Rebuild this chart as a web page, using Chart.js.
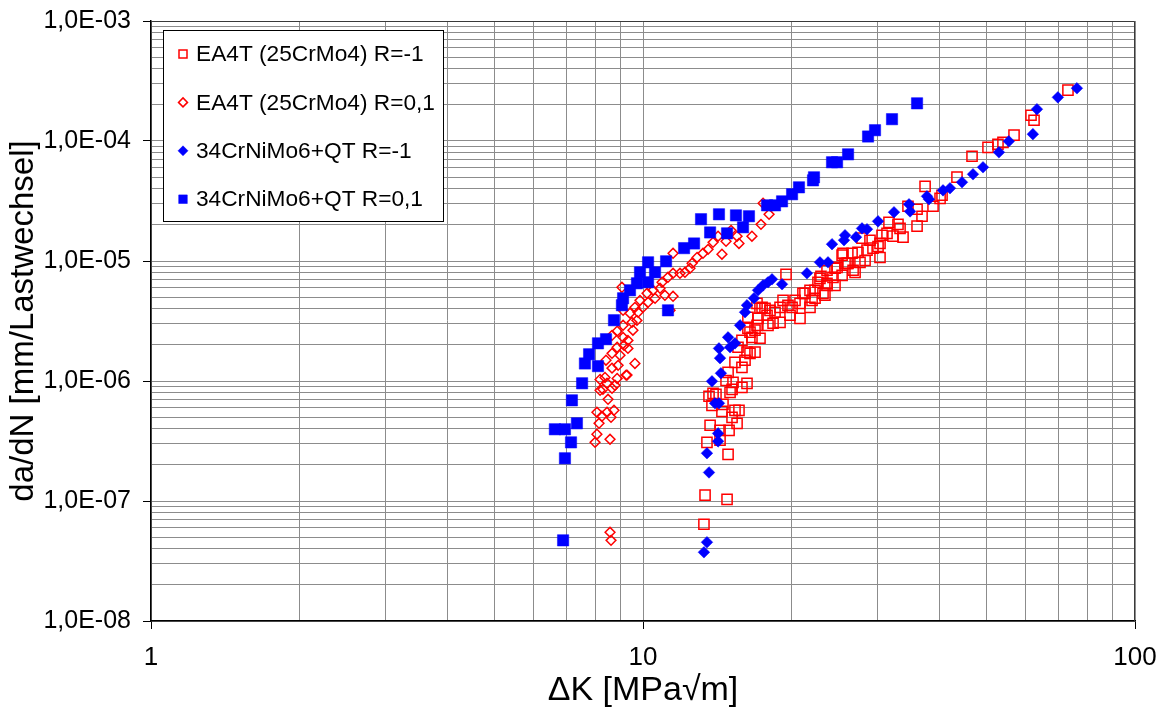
<!DOCTYPE html>
<html lang="de">
<head>
<meta charset="utf-8">
<title>da/dN - ΔK</title>
<script src="https://cdn.jsdelivr.net/npm/chart.js@4.4.1/dist/chart.umd.min.js"></script>
<style>
  html, body { margin: 0; padding: 0; background: #ffffff; }
  #chart-wrap { width: 1163px; height: 711px; }
</style>
</head>
<body>
<div id="chart-wrap"><canvas id="crackChart" width="1163" height="711"></canvas></div>
<script>
// Series labels
const seriesLabels = [
  "EA4T (25CrMo4) R=-1",
  "EA4T (25CrMo4) R=0,1",
  "34CrNiMo6+QT R=-1",
  "34CrNiMo6+QT R=0,1",
];

// EA4T R=-1 : deltaK [MPa√m] and da/dN [mm/Lastwechsel]
const ea4tRm1K = [
  13.30, 13.37, 14.82, 14.89, 13.49, 13.69, 14.34, 14.96, 15.53, 15.17,
  14.47, 13.81, 15.38, 15.67, 14.07, 13.62, 14.54, 15.17, 15.89, 16.27,
  15.24, 13.88, 15.03, 14.89, 15.89, 15.38, 16.50, 16.27, 16.89, 15.60,
  15.89, 16.65, 17.29, 16.34, 17.05, 17.95, 18.99, 17.13, 17.87, 18.55,
  17.70, 18.99, 19.71, 20.85, 21.85, 19.26, 20.37, 21.34, 22.37, 23.22,
  23.66, 22.89, 24.33, 25.39, 24.80, 25.98, 26.73, 25.39, 26.60, 19.53,
  17.05, 16.34, 18.12, 17.46, 18.38, 16.50, 21.14, 22.37, 23.43, 21.85,
  20.09, 22.68, 23.66, 23.00, 24.56, 23.66, 26.98, 26.11, 25.50, 27.35,
  28.27, 28.53, 27.87, 29.34, 30.04, 30.32, 30.61, 31.33, 31.62, 32.22,
  32.98, 33.77, 34.56, 36.06, 36.91, 36.06, 38.86, 40.53, 40.16, 37.44,
  43.47, 46.64, 50.26, 52.66, 53.91, 56.77, 61.47, 62.34, 73.07, 30.32,
  25.74, 17.29, 16.12, 14.75, 16.89, 19.90, 20.85, 22.06, 24.56, 27.61,
  28.93, 33.30, 14.34,
];
const ea4tRm1Rate = [
  6.4e-8, 1.12e-7, 1.03e-7, 2.45e-7, 3.08e-7, 4.28e-7, 3.88e-7, 3.88e-7, 4.44e-7, 4.98e-7,
  5.59e-7, 6.27e-7, 5.70e-7, 5.70e-7, 7.74e-7, 7.46e-7, 6.39e-7, 8.53e-7, 8.86e-7, 9.57e-7,
  9.75e-7, 7.90e-7, 8.05e-7, 1.18e-6, 1.30e-6, 1.43e-6, 1.70e-6, 1.74e-6, 1.74e-6, 1.91e-6,
  2.18e-6, 2.31e-6, 2.27e-6, 2.75e-6, 2.91e-6, 2.91e-6, 3.08e-6, 3.33e-6, 3.53e-6, 3.74e-6,
  4.04e-6, 4.11e-6, 4.27e-6, 4.44e-6, 4.11e-6, 4.70e-6, 4.70e-6, 5.38e-6, 5.70e-6, 5.38e-6,
  6.27e-6, 7.17e-6, 7.31e-6, 7.60e-6, 8.86e-6, 9.57e-6, 8.37e-6, 1.12e-5, 1.16e-5, 7.74e-6,
  4.44e-6, 3.40e-6, 3.88e-6, 4.11e-6, 3.03e-6, 2.55e-6, 5.38e-6, 4.89e-6, 5.18e-6, 5.70e-6,
  4.11e-6, 6.65e-6, 6.52e-6, 7.46e-6, 8.70e-6, 8.37e-6, 8.05e-6, 9.57e-6, 1.16e-5, 1.18e-5,
  1.01e-5, 1.23e-5, 1.55e-5, 1.28e-5, 1.32e-5, 1.07e-5, 1.64e-5, 1.70e-5, 2.10e-5, 1.61e-5,
  2.02e-5, 1.58e-5, 2.86e-5, 2.70e-5, 2.36e-5, 1.95e-5, 2.86e-5, 3.53e-5, 3.33e-5, 4.19e-5,
  5.0e-5, 7.46e-5, 8.86e-5, 9.39e-5, 9.75e-5, 1.12e-4, 1.64e-4, 1.49e-4, 2.65e-4, 1.40e-5,
  9.57e-6, 4.04e-6, 1.49e-6, 1.01e-6, 2.65e-6, 3.53e-6, 3.33e-6, 4.70e-6, 6.27e-6, 9.75e-6,
  1.49e-5, 1.87e-5, 3.21e-7,
];

// EA4T R=0,1
const ea4tR01K = [
  8.57, 8.61, 7.99, 8.57, 8.06, 8.14, 8.06, 8.45, 8.73, 8.61,
  8.25, 8.49, 8.29, 8.65, 8.77, 8.18, 8.45, 8.86, 9.24, 8.65,
  8.90, 8.41, 8.65, 8.98, 8.86, 9.32, 9.32, 9.54, 9.11, 8.86,
  9.11, 9.50, 9.72, 9.77, 9.63, 10.0, 9.86, 10.24, 10.19, 10.58,
  10.48, 10.83, 11.08, 10.93, 11.24, 11.51, 11.51, 11.89, 12.17, 12.46,
  12.58, 12.88, 11.51, 9.06, 9.11, 9.41, 8.65, 9.63, 9.28, 8.18,
  13.24, 13.56, 13.88, 14.21, 14.47, 14.75, 15.10, 15.53, 15.67, 16.65,
  17.37, 18.04, 17.54, 11.35, 9.15, 8.37,
];
const ea4tR01Rate = [
  5.49e-8, 4.70e-8, 3.08e-7, 3.27e-7, 3.60e-7, 4.44e-7, 5.49e-7, 5.49e-7, 5.70e-7, 4.98e-7,
  5.08e-7, 7.04e-7, 8.53e-7, 8.69e-7, 9.21e-7, 1.03e-6, 9.57e-7, 1.05e-6, 1.12e-6, 1.28e-6,
  1.35e-6, 1.49e-6, 1.70e-6, 1.64e-6, 1.91e-6, 1.87e-6, 2.18e-6, 2.65e-6, 2.31e-6, 2.60e-6,
  2.91e-6, 3.08e-6, 3.20e-6, 3.74e-6, 4.11e-6, 4.11e-6, 4.70e-6, 4.53e-6, 5.38e-6, 4.89e-6,
  5.70e-6, 5.92e-6, 5.18e-6, 6.65e-6, 7.31e-6, 7.90e-6, 5.08e-6, 7.90e-6, 8.05e-6, 8.70e-6,
  9.57e-6, 1.07e-5, 1.16e-5, 6.04e-6, 3.88e-6, 3.67e-6, 2.40e-6, 1.40e-6, 1.12e-6, 8.37e-7,
  1.16e-5, 1.25e-5, 1.43e-5, 1.61e-5, 1.14e-5, 1.46e-5, 1.80e-5, 1.61e-5, 1.40e-5, 1.61e-5,
  2.02e-5, 2.45e-5, 3.03e-5, 3.88e-6, 1.98e-6, 1.07e-6,
];

// 34CrNiMo6+QT R=-1
const qtRm1K = [
  13.30, 13.49, 13.62, 13.49, 14.21, 14.21, 14.01, 14.27, 13.81, 14.40,
  14.34, 14.27, 15.03, 14.89, 15.38, 15.75, 16.12, 16.27, 16.81, 17.13,
  17.54, 17.95, 18.29, 19.17, 21.54, 22.89, 23.77, 24.22, 25.62, 25.74,
  27.10, 27.87, 28.53, 30.04, 32.37, 34.73, 34.90, 37.77, 38.13, 40.72,
  42.07, 44.5, 46.85, 49.1, 52.9, 55.4, 62.0, 63.2, 69.7, 76.2,
];
const qtRm1Rate = [
  3.74e-8, 4.53e-8, 1.73e-7, 2.50e-7, 3.14e-7, 3.66e-7, 6.52e-7, 6.52e-7, 9.94e-7, 1.16e-6,
  1.55e-6, 1.87e-6, 1.91e-6, 2.31e-6, 2.06e-6, 2.91e-6, 3.74e-6, 4.28e-6, 4.89e-6, 5.70e-6,
  6.27e-6, 6.65e-6, 7.04e-6, 6.40e-6, 7.90e-6, 9.75e-6, 9.75e-6, 1.38e-5, 1.49e-5, 1.64e-5,
  1.58e-5, 1.87e-5, 1.84e-5, 2.14e-5, 2.55e-5, 2.97e-5, 2.59e-5, 3.46e-5, 3.27e-5, 3.88e-5,
  4.04e-5, 4.53e-5, 5.28e-5, 6.04e-5, 8.05e-5, 9.94e-5, 1.14e-4, 1.84e-4, 2.31e-4, 2.75e-4,
];

// 34CrNiMo6+QT R=0,1
const qtR01K = [
  6.88, 6.62, 6.94, 7.34, 7.14, 6.94, 7.17, 7.52, 7.62, 7.77,
  8.10, 8.10, 8.41, 8.73, 9.06, 9.11, 9.41, 9.72, 9.86, 10.24,
  10.24, 10.58, 11.14, 11.24, 12.12, 12.70, 13.12, 13.69, 14.27, 14.82,
  15.45, 15.97, 16.42, 17.87, 18.55, 19.17, 20.09, 20.75, 22.16, 22.26,
  24.22, 24.80, 26.11, 28.67, 29.62, 32.07, 36.06,
];
const qtR01Rate = [
  4.70e-8, 3.96e-7, 3.96e-7, 4.44e-7, 3.08e-7, 2.27e-7, 6.90e-7, 9.57e-7, 1.40e-6, 1.67e-6,
  1.33e-6, 2.06e-6, 2.23e-6, 3.21e-6, 4.28e-6, 4.89e-6, 5.70e-6, 6.52e-6, 8.05e-6, 9.75e-6,
  6.65e-6, 8.05e-6, 9.94e-6, 3.88e-6, 1.28e-5, 1.40e-5, 2.23e-5, 1.73e-5, 2.45e-5, 1.70e-5,
  2.40e-5, 1.91e-5, 2.36e-5, 2.91e-5, 2.91e-5, 3.14e-5, 3.60e-5, 4.11e-5, 4.70e-5, 4.98e-5,
  6.65e-5, 6.65e-5, 7.74e-5, 1.09e-4, 1.23e-4, 1.52e-4, 2.06e-4,
];

// Axis tick labels (decades only)
const xTickValues = [1, 10, 100];
const xTickLabels = ["1", "10", "100"];
const yTickValues = [1e-8, 1e-7, 1e-6, 1e-5, 1e-4, 1e-3];
const yTickLabels = ["1,0E-08", "1,0E-07", "1,0E-06", "1,0E-05", "1,0E-04", "1,0E-03"];

const fontFamily = '"Liberation Sans", Arial, sans-serif';
const gridColor = "#8c8c8c";

//Helper Functions
function toPoints(kValues, rates) {
  return kValues.map((k, i) => ({ x: k, y: rates[i] }));
}

function isDecade(value) {
  const l = Math.log10(value);
  return Math.abs(l - Math.round(l)) < 1e-6;
}

function decadeLabel(value, values, labels) {
  const idx = values.findIndex((v) => Math.abs(Math.log10(v) - Math.log10(value)) < 1e-6);
  return idx === -1 ? "" : labels[idx];
}

// gridlines at 1..9 of every decade, like the Excel log axis
function logGridValues(minValue, maxValue) {
  const vals = [];
  for (let exp = Math.round(Math.log10(minValue)); exp < Math.round(Math.log10(maxValue)); exp++) {
    for (let m = 1; m <= 9; m++) {
      vals.push(m * Math.pow(10, exp));
    }
  }
  vals.push(maxValue);
  return vals;
}

// plot area frame (top and right edge)
const plotFrame = {
  id: "plotFrame",
  beforeDatasetsDraw(chart) {
    const { ctx, chartArea } = chart;
    ctx.save();
    ctx.strokeStyle = "#3a3a3a";
    ctx.lineWidth = 1;
    ctx.beginPath();
    ctx.moveTo(chartArea.left, chartArea.top + 0.5);
    ctx.lineTo(chartArea.right - 0.5, chartArea.top + 0.5);
    ctx.lineTo(chartArea.right - 0.5, chartArea.bottom);
    ctx.stroke();
    ctx.restore();
  },
};

function drawLegendMarker(ctx, ds, x, y) {
  const r = ds.legendRadius;
  ctx.beginPath();
  if (ds.pointStyle === "rect") {
    ctx.rect(x - r, y - r, 2 * r, 2 * r);
  } else {
    ctx.moveTo(x, y - r);
    ctx.lineTo(x + r, y);
    ctx.lineTo(x, y + r);
    ctx.lineTo(x - r, y);
    ctx.closePath();
  }
  ctx.fillStyle = ds.pointBackgroundColor;
  ctx.fill();
  ctx.lineWidth = ds.pointBorderWidth;
  ctx.strokeStyle = ds.pointBorderColor;
  ctx.stroke();
}

// boxed legend in the upper left of the plot area
const boxLegend = {
  id: "boxLegend",
  afterDraw(chart) {
    const ctx = chart.ctx;
    ctx.save();
    ctx.fillStyle = "#ffffff";
    ctx.fillRect(163, 30, 280, 191);
    ctx.strokeStyle = "#000000";
    ctx.lineWidth = 1;
    ctx.strokeRect(163.5, 30.5, 280, 191);
    ctx.font = "22.7px " + fontFamily;
    ctx.textBaseline = "middle";
    ctx.textAlign = "left";
    chart.data.datasets.forEach((ds, i) => {
      const y = 54 + i * 48.4;
      drawLegendMarker(ctx, ds, 183, y);
      ctx.fillStyle = "#000000";
      ctx.fillText(ds.label, 196, y + 1);
    });
    ctx.restore();
  },
};

const datasets = [
  {
    label: seriesLabels[0],
    data: toPoints(ea4tRm1K, ea4tRm1Rate),
    pointStyle: "rect",
    pointRadius: 7.2,
    pointBorderWidth: 1.5,
    pointBorderColor: "#ff0000",
    pointBackgroundColor: "rgba(255,255,255,0)",
    legendRadius: 4,
    order: 4,
  },
  {
    label: seriesLabels[1],
    data: toPoints(ea4tR01K, ea4tR01Rate),
    pointStyle: "rectRot",
    pointRadius: 4.9,
    pointBorderWidth: 1.5,
    pointBorderColor: "#ff0000",
    pointBackgroundColor: "rgba(255,255,255,0)",
    legendRadius: 4.5,
    order: 3,
  },
  {
    label: seriesLabels[2],
    data: toPoints(qtRm1K, qtRm1Rate),
    pointStyle: "rectRot",
    pointRadius: 5.8,
    pointBorderWidth: 0.5,
    pointBorderColor: "#0000ff",
    pointBackgroundColor: "#0000ff",
    legendRadius: 5,
    order: 2,
  },
  {
    label: seriesLabels[3],
    data: toPoints(qtR01K, qtR01Rate),
    pointStyle: "rect",
    pointRadius: 8,
    pointBorderWidth: 0.5,
    pointBorderColor: "#0000ff",
    pointBackgroundColor: "#0000ff",
    legendRadius: 4.3,
    order: 1,
  },
];

const xGrid = logGridValues(1, 100);
const yGrid = logGridValues(1e-8, 1e-3);

const crackChart = new Chart(document.getElementById("crackChart"), {
  type: "scatter",
  data: { datasets: datasets },
  options: {
    responsive: false,
    animation: false,
    devicePixelRatio: 1,
    events: [],
    layout: {
      autoPadding: false,
      padding: { left: 0, right: 28, top: 21, bottom: 0 },
    },
    plugins: {
      legend: { display: false },
      tooltip: { enabled: false },
    },
    scales: {
      x: {
        type: "logarithmic",
        position: "bottom",
        min: 1,
        max: 100,
        afterBuildTicks: (scale) => {
          scale.ticks = xGrid.map((v) => ({ value: v }));
        },
        afterFit: (scale) => {
          // fixed axis band, no label overhang padding
          scale.height = 90;
          scale.paddingLeft = 0;
          scale.paddingRight = 0;
        },
        ticks: {
          autoSkip: false,
          maxRotation: 0,
          padding: 13,
          color: "#000000",
          font: { family: fontFamily, size: 26 },
          callback: (value) => decadeLabel(value, xTickValues, xTickLabels),
        },
        grid: {
          color: gridColor,
          lineWidth: 1,
          tickLength: 8,
          tickColor: (ctx) => (ctx.tick && isDecade(ctx.tick.value) ? "#000000" : "rgba(0,0,0,0)"),
        },
        border: { color: "#000000", width: 1.5 },
        title: {
          display: true,
          text: "ΔK [MPa√m]",
          color: "#000000",
          font: { family: fontFamily, size: 34 },
          padding: { top: 0, bottom: 0 },
        },
      },
      y: {
        type: "logarithmic",
        position: "left",
        min: 1e-8,
        max: 1e-3,
        afterBuildTicks: (scale) => {
          scale.ticks = yGrid.map((v) => ({ value: v }));
        },
        afterFit: (scale) => {
          scale.width = 151;
          scale.paddingTop = 0;
          scale.paddingBottom = 0;
        },
        ticks: {
          autoSkip: false,
          padding: 12,
          color: "#000000",
          font: { family: fontFamily, size: 25 },
          callback: (value) => decadeLabel(value, yTickValues, yTickLabels),
        },
        grid: {
          color: gridColor,
          lineWidth: 1,
          tickLength: 8,
          tickColor: (ctx) => (ctx.tick && isDecade(ctx.tick.value) ? "#000000" : "rgba(0,0,0,0)"),
        },
        border: { color: "#000000", width: 1.5 },
        title: {
          display: true,
          text: "da/dN [mm/Lastwechsel]",
          color: "#000000",
          font: { family: fontFamily, size: 33 },
          padding: { top: 4, bottom: 0 },
        },
      },
    },
  },
  plugins: [plotFrame, boxLegend],
});
</script>
</body>
</html>
